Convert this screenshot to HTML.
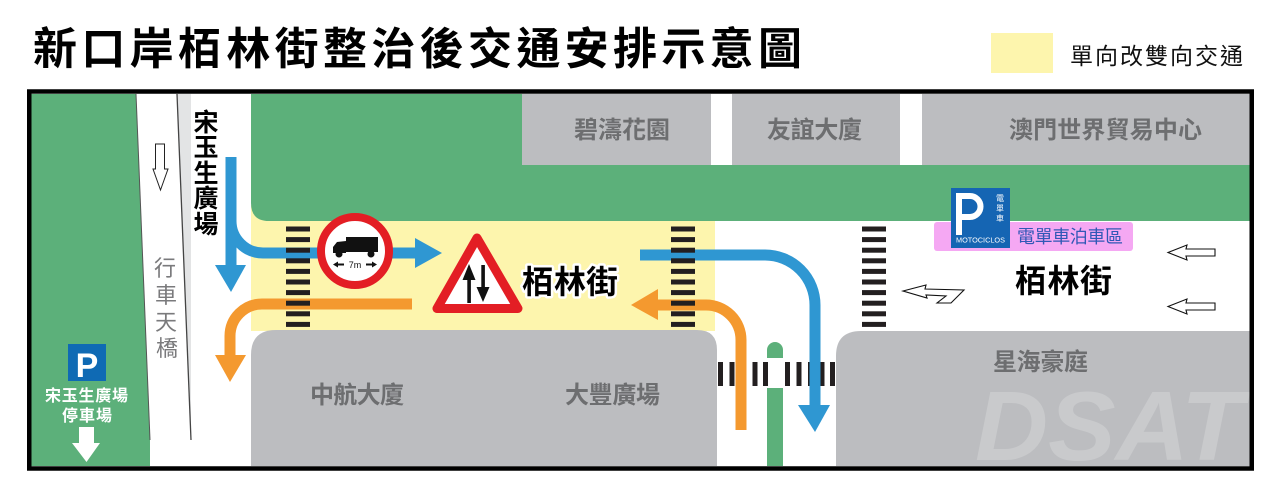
<!DOCTYPE html>
<html><head><meta charset="utf-8"><style>
html,body{margin:0;padding:0;background:#fff;width:1280px;height:502px;overflow:hidden}
svg{display:block}
text{font-family:"Liberation Sans","Noto Sans CJK TC",sans-serif}
</style></head><body>
<svg width="1280" height="502" viewBox="0 0 1280 502" xmlns="http://www.w3.org/2000/svg">
<rect width="1280" height="502" fill="#fff"/>
<!-- Title -->
<text x="33" y="64" font-size="44" font-weight="bold" fill="#000" textLength="769" lengthAdjust="spacing">新口岸栢林街整治後交通安排示意圖</text>
<!-- Legend -->
<rect x="991" y="33" width="62" height="40" fill="#fdf5ad"/>
<text x="1070" y="64" font-size="23" fill="#111" textLength="173" lengthAdjust="spacing">單向改雙向交通</text>

<!-- map background -->
<rect x="31" y="94" width="1219" height="372" fill="#fff"/>
<!-- left green -->
<polygon points="31,94 136,94 150,440 150,466 31,466" fill="#5cb07a"/>
<!-- bridge -->
<polygon points="177,94 191,94 191,440" fill="#e3e4e5"/>
<line x1="136" y1="94" x2="150" y2="440" stroke="#555" stroke-width="1"/>
<line x1="177" y1="94" x2="191" y2="440" stroke="#444" stroke-width="1.3"/>
<!-- bridge down arrow -->
<polygon points="155.5,144 164.5,144 164.5,169 168,169 160.5,190 153,169 155.5,169" fill="#fff" stroke="#222" stroke-width="1"/>
<!-- bridge text -->
<g font-size="22" fill="#7a7a7c" text-anchor="middle">
<text x="165" y="276">行</text>
<text x="166" y="303">車</text>
<text x="166" y="330">天</text>
<text x="167" y="356">橋</text>
</g>

<!-- yellow zone -->
<rect x="251" y="205" width="464" height="126" fill="#fdf5ad"/>
<!-- top green block -->
<path d="M251,94 H1250 V221 H269 Q251,221 251,203 Z" fill="#5cb07a"/>
<!-- top buildings -->
<rect x="522" y="94" width="189" height="71" fill="#bcbdc0"/>
<rect x="711" y="94" width="21" height="71" fill="#fff"/>
<rect x="732" y="94" width="168" height="71" fill="#bcbdc0"/>
<rect x="900" y="94" width="22" height="71" fill="#fff"/>
<rect x="922" y="94" width="328" height="71" fill="#bcbdc0"/>
<g font-size="24" font-weight="bold" fill="#6d6e70">
<text x="574" y="138" textLength="96" lengthAdjust="spacing">碧濤花園</text>
<text x="767" y="138" textLength="95" lengthAdjust="spacing">友誼大廈</text>
<text x="1009" y="138" textLength="193" lengthAdjust="spacing">澳門世界貿易中心</text>
</g>

<!-- bottom buildings -->
<path d="M251,466 V355 Q251,330 276,330 H697 Q717,330 717,350 V466 Z" fill="#bcbdc0"/>
<path d="M836,466 V356 Q836,331 861,331 H1250 V466 Z" fill="#bcbdc0"/>
<text x="975" y="460" font-size="98" font-weight="bold" font-style="italic" fill="#c9cacc" textLength="268" lengthAdjust="spacingAndGlyphs">DSAT</text>
<g font-size="24" font-weight="bold" fill="#6d6e70">
<text x="310" y="403" textLength="94" lengthAdjust="spacing">中航大廈</text>
<text x="565" y="403" textLength="95" lengthAdjust="spacing">大豐廣場</text>
<text x="993" y="370" textLength="95" lengthAdjust="spacing">星海豪庭</text>
</g>

<!-- green median -->
<rect x="767" y="342" width="16" height="30" rx="8" fill="#5cb07a"/>
<rect x="767" y="358" width="16" height="30" fill="#fff"/>
<rect x="767" y="388" width="16" height="78" fill="#5cb07a"/>

<!-- vertical-bar crosswalk -->
<g fill="#231f20">
<rect x="718" y="362" width="5" height="24"/><rect x="729.5" y="362" width="5" height="24"/><rect x="741" y="362" width="5" height="24"/><rect x="752.5" y="362" width="5" height="24"/><rect x="763" y="362" width="5" height="24"/>
<rect x="785" y="362" width="5" height="24"/><rect x="796.5" y="362" width="5" height="24"/><rect x="808" y="362" width="5" height="24"/><rect x="819.5" y="362" width="5" height="24"/><rect x="830" y="362" width="5" height="24"/>
</g>

<!-- blue arrows -->
<g fill="none" stroke="#2f97d2" stroke-width="11">
<path d="M231,157 V268"/>
<path d="M231,221 A32,32 0 0 0 263,253 H418"/>
<path d="M640,255 H765 A50,50 0 0 1 815,305 V408"/>
</g>
<g fill="#2f97d2">
<polygon points="215,265 246,265 231,292"/>
<polygon points="415,238 415,268 442,253"/>
<polygon points="798,405 830,405 815,432"/>
</g>
<!-- orange arrows -->
<g fill="none" stroke="#f4992f" stroke-width="11">
<path d="M412,304 H262 A32,32 0 0 0 230,336 V358"/>
<path d="M741,430 V340 A35,35 0 0 0 706,305 H655"/>
</g>
<g fill="#f4992f">
<polygon points="215,355 246,355 230,382"/>
<polygon points="658,289 658,320 631,305"/>
</g>

<!-- horizontal-stripe crosswalks -->
<g fill="#231f20">
<rect x="286" y="226.5" width="24" height="5"/><rect x="286" y="237.1" width="24" height="5"/><rect x="286" y="247.7" width="24" height="5"/><rect x="286" y="258.3" width="24" height="5"/><rect x="286" y="268.9" width="24" height="5"/><rect x="286" y="279.5" width="24" height="5"/><rect x="286" y="290.1" width="24" height="5"/><rect x="286" y="300.7" width="24" height="5"/><rect x="286" y="311.3" width="24" height="5"/><rect x="286" y="321.9" width="24" height="5"/>
<rect x="671" y="226.5" width="24" height="5"/><rect x="671" y="237.1" width="24" height="5"/><rect x="671" y="247.7" width="24" height="5"/><rect x="671" y="258.3" width="24" height="5"/><rect x="671" y="268.9" width="24" height="5"/><rect x="671" y="279.5" width="24" height="5"/><rect x="671" y="290.1" width="24" height="5"/><rect x="671" y="300.7" width="24" height="5"/><rect x="671" y="311.3" width="24" height="5"/><rect x="671" y="321.9" width="24" height="5"/>
<rect x="862" y="226.5" width="24" height="5"/><rect x="862" y="237.1" width="24" height="5"/><rect x="862" y="247.7" width="24" height="5"/><rect x="862" y="258.3" width="24" height="5"/><rect x="862" y="268.9" width="24" height="5"/><rect x="862" y="279.5" width="24" height="5"/><rect x="862" y="290.1" width="24" height="5"/><rect x="862" y="300.7" width="24" height="5"/><rect x="862" y="311.3" width="24" height="5"/><rect x="862" y="321.9" width="24" height="5"/>
</g>

<!-- 宋玉生廣場 vertical -->
<g font-size="25" font-weight="bold" fill="#000" text-anchor="middle">
<text x="206" y="131">宋</text>
<text x="206" y="156">玉</text>
<text x="206" y="182">生</text>
<text x="206" y="207">廣</text>
<text x="206" y="233">場</text>
</g>

<!-- no-truck sign -->
<circle cx="355" cy="251" r="34" fill="#fff" stroke="#e31e24" stroke-width="8"/>
<g fill="#111">
<rect x="346" y="237" width="32" height="15"/>
<polygon points="333,253 333,247 337,242 346,241 346,253"/>
<circle cx="339" cy="254" r="3.5"/>
<circle cx="371" cy="254" r="3.5"/>
<polygon points="333,264.5 338,261.5 338,263.5 344,263.5 344,265.5 338,265.5 338,267.5"/>
<polygon points="377,264.5 372,261.5 372,263.5 366,263.5 366,265.5 372,265.5 372,267.5"/>
<text x="355" y="268" font-size="9" text-anchor="middle">7m</text>
</g>

<!-- warning triangle -->
<polygon points="477,238 437,308.5 518,308.5" fill="#fff" stroke="#e31e24" stroke-width="9" stroke-linejoin="round"/>
<g fill="#111">
<rect x="467.3" y="276" width="3.6" height="27"/>
<polygon points="462.5,280 475.5,280 469,264"/>
<rect x="481.3" y="265" width="3.6" height="24"/>
<polygon points="476.5,287 489.5,287 483,302"/>
</g>

<!-- 栢林街 labels -->
<text x="522" y="293" font-size="32" font-weight="bold" fill="#000" stroke="#fff" stroke-width="5" stroke-linejoin="round" paint-order="stroke" textLength="96" lengthAdjust="spacing">栢林街</text>
<text x="1015" y="292" font-size="32" font-weight="bold" fill="#000" textLength="97" lengthAdjust="spacing">栢林街</text>

<!-- motorcycle parking -->
<rect x="934" y="222" width="199" height="29" rx="3" fill="#f5a8f3"/>
<text x="1017" y="243" font-size="18" fill="#3058b6" textLength="106" lengthAdjust="spacing">電單車泊車區</text>
<rect x="951" y="188" width="59" height="60" fill="#1565b3"/>
<rect x="956" y="193" width="6" height="42" fill="#fff"/>
<path d="M959,196 H970 A10.5,10.5 0 0 1 970,217 H959" fill="none" stroke="#fff" stroke-width="6"/>
<g font-size="8" fill="#fff" text-anchor="middle">
<text x="1000" y="201">電</text>
<text x="1000" y="211">單</text>
<text x="1000" y="221">車</text>
</g>
<text x="956" y="242.5" font-size="7.5" fill="#fff" textLength="49" lengthAdjust="spacingAndGlyphs">MOTOCICLOS</text>

<!-- outline arrows right road -->
<g fill="#fff" stroke="#111" stroke-width="1.1">
<polygon points="1168,252.5 1187,245 1186,249 1215,249 1215,256 1186,256 1187,260"/>
<polygon points="1168,306.5 1187,299 1186,303 1215,303 1215,310 1186,310 1187,314"/>
<polygon points="903,291 926,285 925,289 964,290 951,303 937,303 946,296 926,295 927,298"/>
</g>

<!-- left parking sign -->
<rect x="68" y="344" width="38" height="37" fill="#0f6ab4"/>
<text x="87" y="377" font-size="34" font-weight="bold" fill="#fff" text-anchor="middle">P</text>
<text x="86.5" y="401" font-size="16" font-weight="bold" fill="#fff" text-anchor="middle" textLength="83" lengthAdjust="spacing">宋玉生廣場</text>
<text x="87" y="421" font-size="16" font-weight="bold" fill="#fff" text-anchor="middle" textLength="50" lengthAdjust="spacing">停車場</text>
<polygon points="79,427 94,427 94,443 100,443 86.5,462 72,443 79,443" fill="#fff"/>

<!-- border -->
<rect x="29.25" y="91.5" width="1222.5" height="377" fill="none" stroke="#000" stroke-width="4.5"/>
</svg>
</body></html>
